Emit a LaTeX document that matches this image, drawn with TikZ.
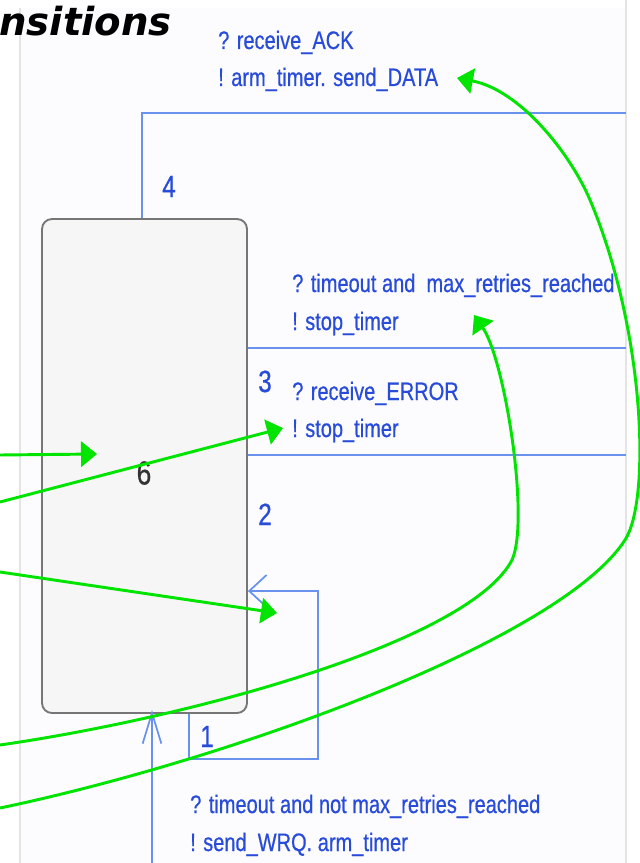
\documentclass[tikz,border=0pt]{standalone}
\usepackage{fontspec}
\usepackage{xcolor}
\usepackage{tikz}
\usetikzlibrary{arrows.meta}
\usetikzlibrary{positioning}

\newfontfamily\guardfont[FakeStretch=0.79,FakeBold=0.6]{Liberation Sans}
\newfontfamily\titlefont[BoldItalicFont={DejaVu Sans Bold Oblique}]{DejaVu Sans}

\definecolor{transblue}{RGB}{105,145,238}
\definecolor{guardblue}{RGB}{40,75,218}
\definecolor{notegreen}{RGB}{0,228,0}
\definecolor{framegray}{RGB}{228,228,228}
\definecolor{statefill}{RGB}{246,246,246}
\definecolor{stateline}{RGB}{118,118,118}

\tikzset{
  trans/.style={draw=transblue, line width=1.3pt},
  guard/.style={anchor=base west, inner sep=0pt, text=guardblue,
    font=\guardfont\fontsize{19}{23}\selectfont},
  tnum/.style={guard, font=\guardfont\fontsize{23}{27}\selectfont},
  note/.style={draw=notegreen, line width=2.2pt, -{Triangle[length=12pt,width=19pt]}},
}

\begin{document}
\begin{tikzpicture}[x=0.75pt,y=0.75pt,yscale=-1,xscale=1]
\useasboundingbox (0,0) rectangle (639,863);
\fill[white] (0,0) rectangle (639,863);
\fill[blue!1] (20,8) rectangle (626,863);

%Frame lines
\draw[framegray, line width=1.2pt] (20,8) -- (20,863);
\draw[framegray, line width=1.2pt] (626,0) -- (626,863);

% Title
\node (title) [anchor=base west, inner sep=0pt,
  font=\titlefont\bfseries\itshape\fontsize{29}{34}\selectfont] at (-1,36) {nsitions};

%State
\node (s6) [draw=stateline, fill=statefill, line width=1.4pt, rounded corners=7.5pt,
  minimum width=153.75pt, minimum height=370.5pt, inner sep=0pt] at (144.5,466) {};
\node (n6) [inner sep=0pt, text=black!80, font=\guardfont\fontsize{25}{29}\selectfont] at (144,473) {6};

%Transition 4
\coordinate (t4a) at (142,113);
\coordinate (t4b) at (626,113);
\draw[trans] (s6.north -| t4a) -- (t4a) -- (t4b);
%Transitions 3 and 2
\coordinate (t3) at (626,348);
\coordinate (t2) at (626,455);
\draw[trans] (s6.east |- t3) -- (t3);
\draw[trans] (s6.east |- t2) -- (t2);
%Transition 1 (self loop)
\coordinate (l1) at (318,591);
\coordinate (l2) at (318,759);
\coordinate (l3) at (189,759);
\draw[trans, {Straight Barb[length=13pt,width=24pt]}-] (s6.east |- l1) -- (l1) -- (l2) -- (l3) -- (l3 |- s6.south);
%Initial transition
\coordinate (init) at (152,863);
\draw[trans, -{Straight Barb[length=23pt,width=14pt]}] (init) -- ([yshift=-3pt]init |- s6.south);

% Text Node
\node (n4) [tnum] at (162,197) {4};
\node (n3) [tnum] at (258,392) {3};
\node (n2) [tnum] at (258,525) {2};
\node (n1) [tnum] at (200,747) {1};

\node (ackg) [guard] at (218,49) {? receive\_ACK};
\node (acka) [guard] at (218,86) {! arm\_timer. send\_DATA};
\node (maxg) [guard] at (292,292) {? timeout and\ \ max\_retries\_reached};
\node (maxa) [guard] at (292,330) {! stop\_timer};
\node (errg) [guard] at (292,400) {? receive\_ERROR};
\node (erra) [guard] at (292,437) {! stop\_timer};
\node (notg) [guard] at (190,813) {? timeout and not max\_retries\_reached};
\node (nota) [guard] at (190,851) {! send\_WRQ. arm\_timer};

%Pointers
\coordinate (g1s) at (0,455);
\coordinate (g1t) at (97,454);
\coordinate (g2s) at (0,502);
\coordinate (g2t) at (283,428);
\coordinate (g3s) at (0,572);
\coordinate (g3t) at (277,613);
\coordinate (gAs) at (0,745);
\coordinate (gAt) at (474,315);
\coordinate (gBs) at (0,808);
\coordinate (gBt) at (457,78);
\draw[note] (g1s) -- (g1t);
\draw[note] (g2s) -- (g2t);
\draw[note] (g3s) -- (g3t);
\draw[note] (gAs) .. controls (200,716) and (470,640) .. (512,560) .. controls (530,520) and (505,360) .. (gAt);
\draw[note] (gBs) .. controls (230,760) and (560,640) .. (625,540) .. controls (651,500) and (645,330) .. (590,200) .. controls (570,153) and (520,90) .. (gBt);

\end{tikzpicture}
\end{document}
